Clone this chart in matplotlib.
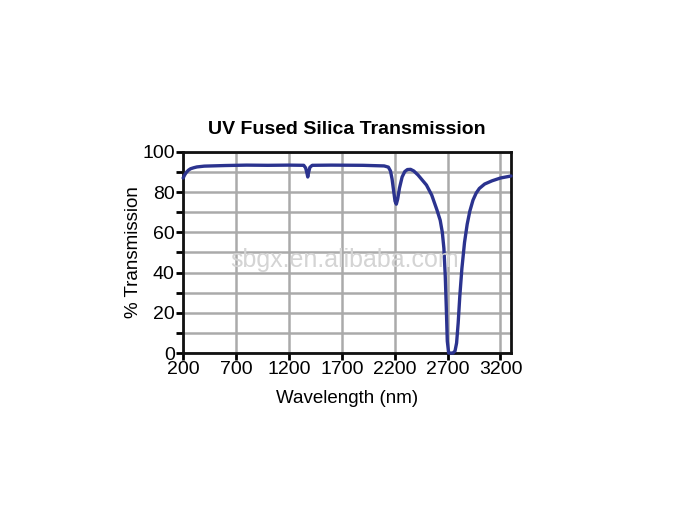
import matplotlib.pyplot as plt
import numpy as np

plt.rcParams['font.family'] = ['Liberation Sans', 'DejaVu Sans']

# wavelength (nm) and transmission (%)
wavelength = [200, 215, 230, 250, 270, 300, 330, 400, 600, 800, 1000, 1200, 1340, 1358, 1370,
              1378, 1386, 1398, 1420, 1600, 1900, 2100, 2140, 2160, 2175, 2190, 2203, 2215,
              2228, 2245, 2270, 2295, 2320, 2350, 2380, 2420, 2460, 2500, 2550, 2600, 2630,
              2650, 2665, 2678, 2688, 2697, 2710, 2750, 2770, 2785, 2800, 2815, 2835, 2860,
              2885, 2910, 2940, 2970, 3000, 3050, 3120, 3200, 3300]
transmission = [87, 88.6, 89.8, 90.9, 91.6, 92.1, 92.5, 92.9, 93.2, 93.4, 93.3, 93.4, 93.3, 92,
                89.5, 87.5, 89.8, 92.3, 93.3, 93.4, 93.3, 93, 92.4, 90.5, 86.5, 80.5, 75.5, 74,
                76.5, 82, 87.5, 90.2, 91.2, 91.3, 90.5, 88.5, 86, 83.5, 78.5, 71, 66,
                60, 52, 38, 22, 6, 0, 0, 1, 5, 15, 28, 42, 55,
                64, 70.5, 76, 79.5, 81.8, 84, 85.6, 87, 88]

xticks = [200, 700, 1200, 1700, 2200, 2700, 3200]
yticks = [0, 20, 40, 60, 80, 100]

fig = plt.figure(figsize=(6.86, 5.2), dpi=100)
ax = fig.add_axes([0.267, 0.321, 0.478, 0.387])

ax.plot(wavelength, transmission, color='#2b338f', lw=2.4, solid_joinstyle='round',
        solid_capstyle='round', zorder=3, clip_on=False)

ax.set_xlim(200, 3300)
ax.set_ylim(0, 100)
ax.set_xticks(xticks)
ax.set_yticks(yticks)
ax.set_yticks(np.arange(10, 100, 20), minor=True)
ax.grid(True, which='both', color='#aaaaaa', lw=1.8)
ax.set_axisbelow(True)
ax.tick_params(which='both', direction='out', length=5, width=2, labelsize=14, pad=1)
ax.tick_params(axis='x', which='minor', length=0)
for s in ax.spines.values():
    s.set_linewidth(2)
    s.set_color('#111111')

ax.set_title('UV Fused Silica Transmission', fontsize=14, fontweight='bold', pad=13)
ax.set_xlabel('Wavelength (nm)', fontsize=13.5, labelpad=8)
ax.set_ylabel('% Transmission', fontsize=13.5, labelpad=0)

fig.text(0.503, 0.5, 'sbgx.en.alibaba.com', fontsize=18, color='#d4d4d4', ha='center',
         va='center', zorder=5)

fig.savefig('out.png', dpi=100)
